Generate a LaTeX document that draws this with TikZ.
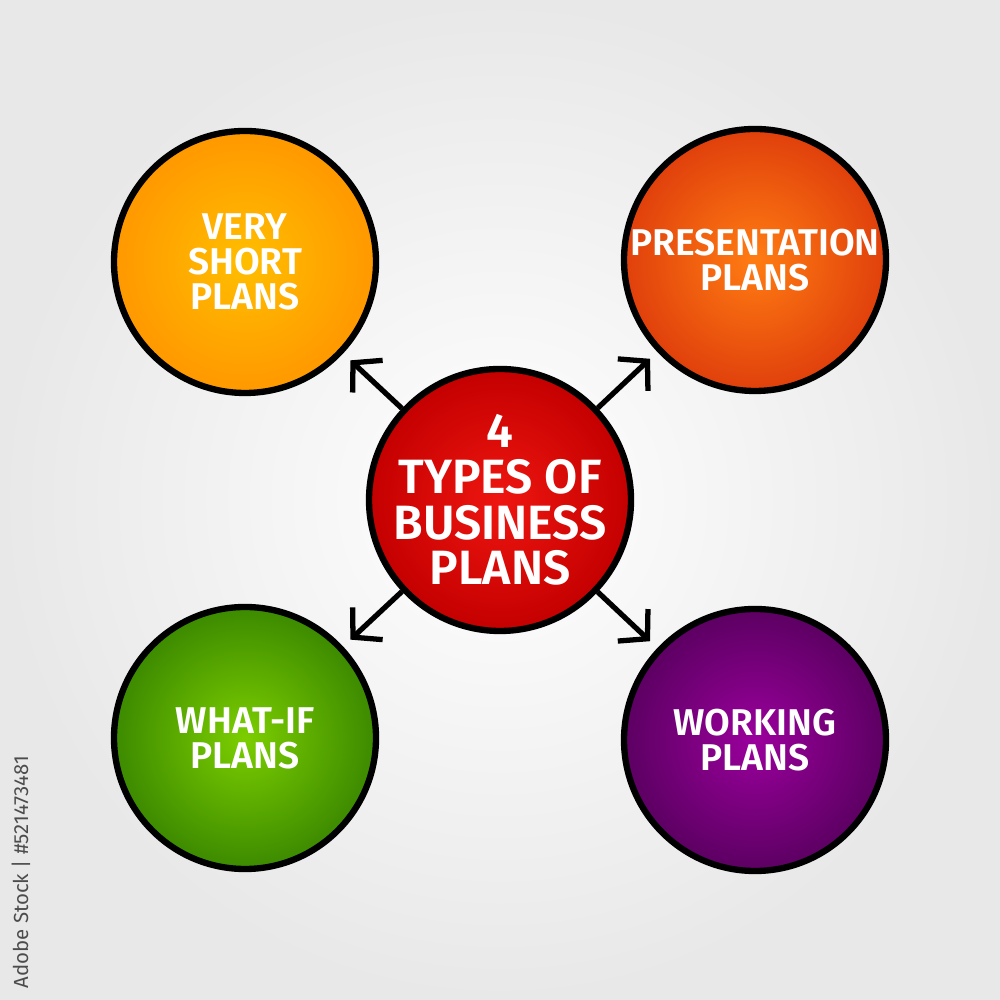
\documentclass[tikz,border=0pt]{standalone}
\usepackage{fontspec}
\setsansfont{Fira Sans}[BoldFont={Fira Sans SemiBold}]
\usetikzlibrary{arrows.meta,positioning}
\definecolor{veryin}{HTML}{FFBE00}
\definecolor{veryout}{HTML}{FF9800}
\definecolor{presin}{HTML}{FF7C12}
\definecolor{presout}{HTML}{E0400C}
\definecolor{corein}{HTML}{EE1610}
\definecolor{coreout}{HTML}{C40000}
\definecolor{whatin}{HTML}{7CCE00}
\definecolor{whatout}{HTML}{3C8A00}
\definecolor{workin}{HTML}{9A009C}
\definecolor{workout}{HTML}{5C0062}
\tikzset{plan/.style={circle,draw=black,line width=1.8pt,minimum size=2.62cm,inner sep=-12pt,text=white,align=center,
  font=\sffamily\bfseries\fontsize{10.6}{10}\selectfont}}
\tikzset{link/.style={-{Straight Barb[length=2mm,width=4.4mm]},line width=1.5pt,shorten >=1mm}}

\begin{document}
\begin{tikzpicture}
\useasboundingbox (0,0) rectangle (10,10);
\shade[inner color=white,outer color=black!9] (0,0) rectangle (10,10);
% \draw[help lines] (0,0) grid (10,10);
\node (core) [plan,inner color=corein,outer color=coreout,font=\sffamily\bfseries\fontsize{13.7}{13}\selectfont] at (5,5) {4\\TYPES OF\\BUSINESS\\PLANS};
\node (vshort) [plan,inner color=veryin,outer color=veryout] at (2.45,7.38) {VERY\\SHORT\\PLANS};
\node (pres) [plan,inner color=presin,outer color=presout] at (7.55,7.4) {PRESENTATION\\PLANS};
\node (whatif) [plan,inner color=whatin,outer color=whatout] at (2.45,2.62) {WHAT-IF\\PLANS};
\node (work) [plan,inner color=workin,outer color=workout] at (7.55,2.6) {WORKING\\PLANS};
%
\draw[link] (core) -- (vshort);
\draw[link] (core) -- (pres);
\draw[link] (core) -- (whatif);
\draw[link] (core) -- (work);
%
\node (stockid) [rotate=90,anchor=west,text=black!70,font=\sffamily\fontsize{5.8}{7}\selectfont,inner sep=0pt] at (0.21,0.11) {Adobe Stock | \#521473481};
\end{tikzpicture}
\end{document}
